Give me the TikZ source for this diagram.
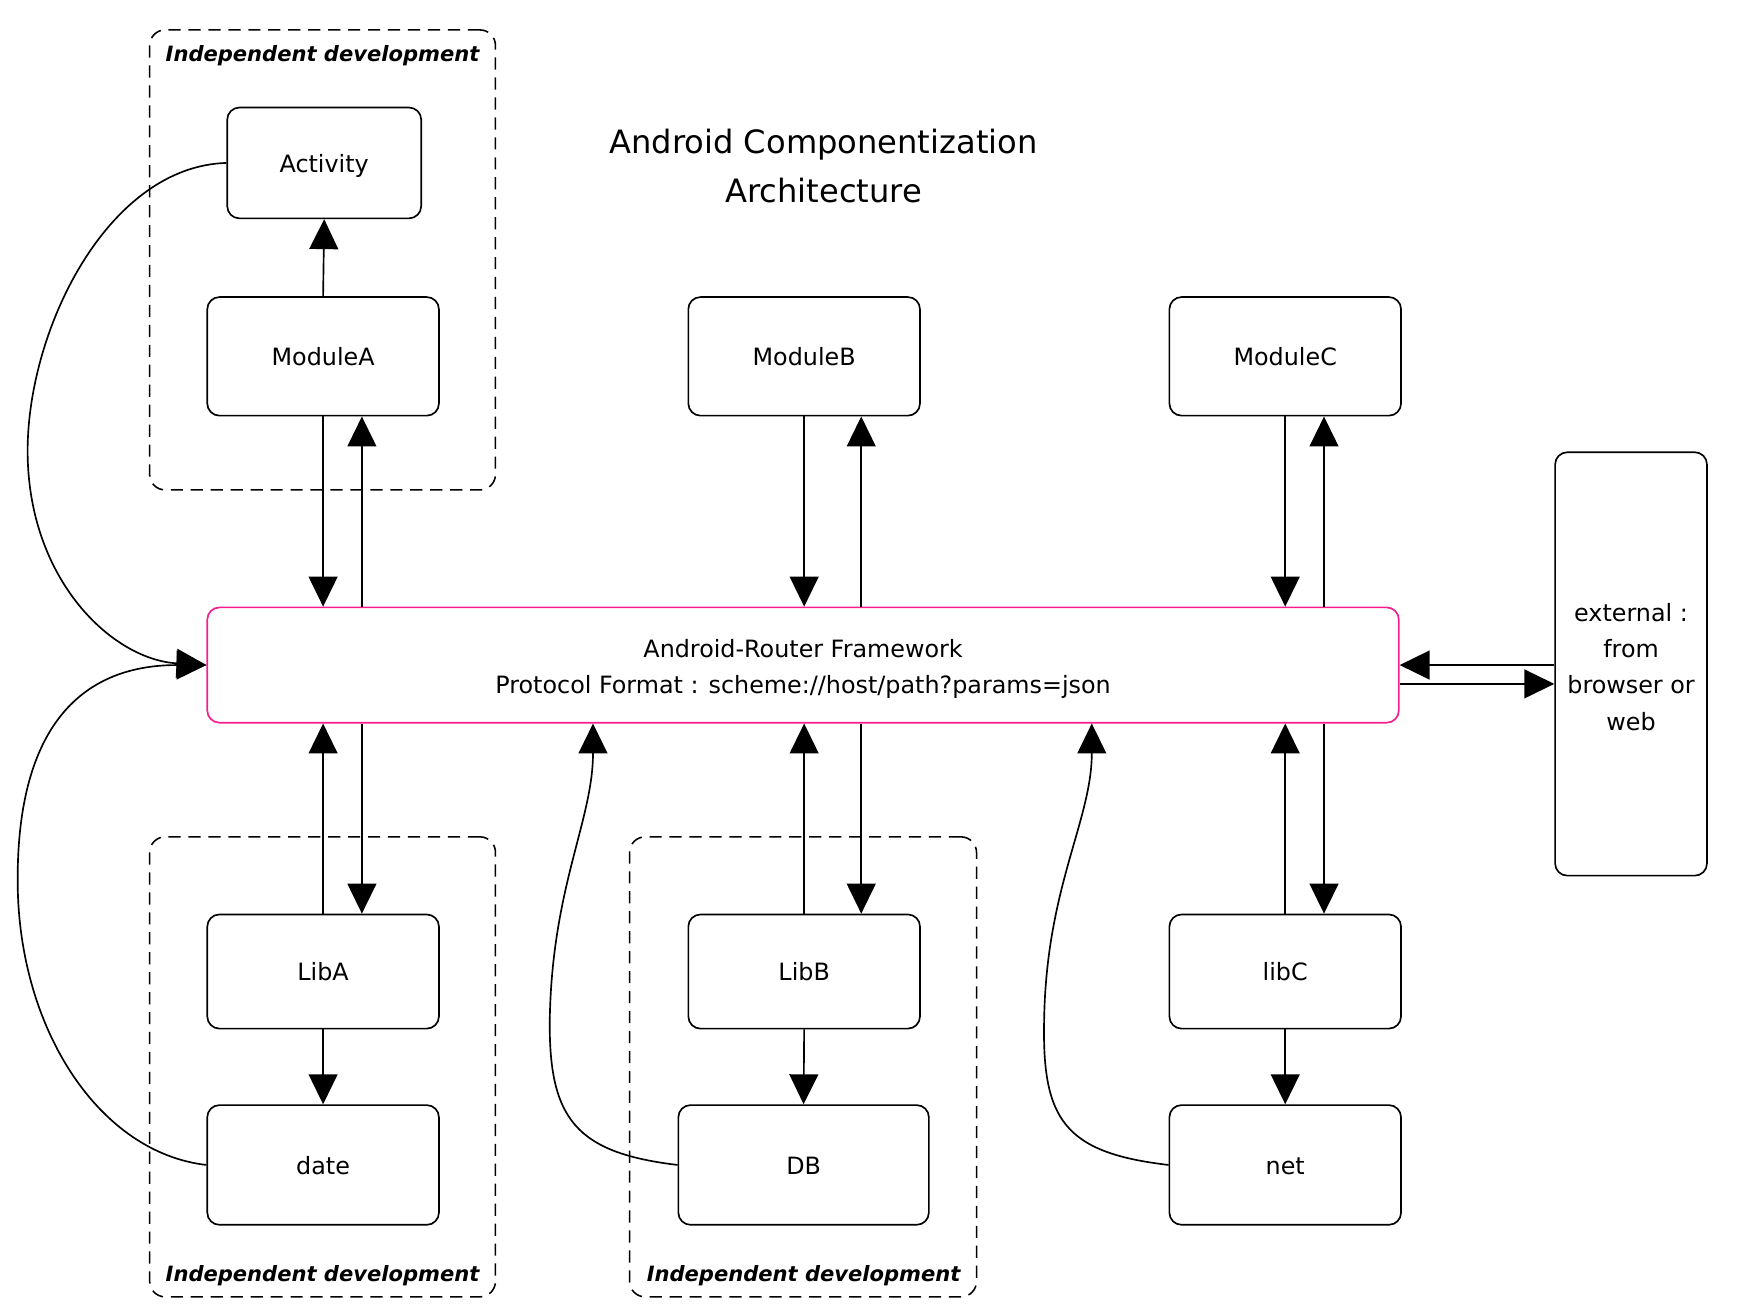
\documentclass[tikz,border=0pt]{standalone}
\usepackage{fontspec}
\setmainfont{DejaVu Sans}
\usetikzlibrary{arrows.meta}
\definecolor{routerpink}{RGB}{245,30,140}
\tikzset{
  box/.style={draw=black, line width=1.5pt, rounded corners=11pt, fill=white,
    minimum width=209pt, minimum height=105pt, align=center,
    font=\fontsize{21.5pt}{32.5pt}\selectfont, inner sep=0pt},
  onebox/.style={box, text height=17pt, text depth=0pt},
  group/.style={draw=black, line width=1.4pt, dash pattern=on 11pt off 7pt,
    rounded corners=14pt, inner sep=0pt},
  grouplabel/.style={font=\fontsize{19pt}{22pt}\selectfont\bfseries\itshape, inner sep=0pt},
  arr/.style={line width=1.5pt, -{Triangle[length=27pt,width=26pt]}},
}
\begin{document}
\begin{tikzpicture}[x=1pt, y=-1pt]
\useasboundingbox (0,0) rectangle (1568,1185);
% groups
\node[group, minimum width=312pt, minimum height=415pt] (g1) at (291,234.5) {};
\node[group, minimum width=312pt, minimum height=415pt] (g2) at (291,962.5) {};
\node[group, minimum width=313pt, minimum height=415pt] (g3) at (724.5,962.5) {};
\node[grouplabel] (g1l) at (291,50) {Independent development};
\node[grouplabel] (g2l) at (291,1151) {Independent development};
\node[grouplabel] (g3l) at (725,1151) {Independent development};
% title
\node[align=center, font=\fontsize{29pt}{44pt}\selectfont] (title) at (743,150)
  {Android Componentization\\Architecture};
% boxes
\node[onebox, minimum width=175pt, minimum height=100pt] (Activity) at (292.5,147) {Activity};
\node[onebox, minimum height=107pt] (ModuleA) at (291.5,321.5) {ModuleA};
\node[onebox, minimum height=107pt] (ModuleB) at (725.5,321.5) {ModuleB};
\node[onebox, minimum height=107pt] (ModuleC) at (1159.5,321.5) {ModuleC};
\node[box, draw=routerpink, minimum width=1075pt, minimum height=104pt] (Router) at (724.5,600)
  {\rule{0pt}{22.5pt}Android-Router Framework\\Protocol Format : scheme://host/path?params=json};
\node[box, minimum width=137pt, minimum height=382pt] (External) at (1471.5,599)
  {\rule{0pt}{22pt}external :\\from\\browser or\\web};
\node[onebox, minimum height=103pt] (LibA) at (291.5,876.5) {LibA};
\node[onebox, minimum height=103pt] (LibB) at (725.5,876.5) {LibB};
\node[onebox, minimum height=103pt] (libC) at (1159.5,876.5) {libC};
\node[onebox, minimum height=108pt] (date) at (291.5,1051) {date};
\node[onebox, minimum width=226pt, minimum height=108pt] (DB) at (725,1051) {DB};
\node[onebox, minimum height=108pt] (net) at (1159.5,1051) {net};
% module <-> router
\draw[arr] (ModuleA.north) -- (Activity.south);
\draw[arr] (ModuleA.south) -- (ModuleA.south |- Router.north);
\draw[arr] ([xshift=35pt]ModuleA.south |- Router.north) -- ([xshift=35pt]ModuleA.south);
\draw[arr] (ModuleB.south) -- (ModuleB.south |- Router.north);
\draw[arr] ([xshift=51.5pt]ModuleB.south |- Router.north) -- ([xshift=51.5pt]ModuleB.south);
\draw[arr] (ModuleC.south) -- (ModuleC.south |- Router.north);
\draw[arr] ([xshift=35pt]ModuleC.south |- Router.north) -- ([xshift=35pt]ModuleC.south);
% libs <-> router
\draw[arr] (LibA.north) -- (LibA.north |- Router.south);
\draw[arr] ([xshift=35pt]LibA.north |- Router.south) -- ([xshift=35pt]LibA.north);
\draw[arr] (LibB.north) -- (LibB.north |- Router.south);
\draw[arr] ([xshift=51.5pt]LibB.north |- Router.south) -- ([xshift=51.5pt]LibB.north);
\draw[arr] (libC.north) -- (libC.north |- Router.south);
\draw[arr] ([xshift=35pt]libC.north |- Router.south) -- ([xshift=35pt]libC.north);
% libs -> sub
\draw[arr] (LibA.south) -- (date.north);
\draw[arr] (LibB.south) -- (DB.north);
\draw[arr] (libC.south) -- (net.north);
% external
\draw[arr] (External.west |- Router.east) -- (Router.east);
\draw[arr] ([yshift=-17pt]Router.east) -- ([yshift=-17pt]Router.east -| External.west);
% curves
\draw[arr] (Activity.west) .. controls (100,150) and (28,290) .. (25,400)
  .. controls (22,520) and (100,595) .. (Router.west);
\draw[arr] (date.west) .. controls (90,1040) and (18,930) .. (16,800)
  .. controls (14,660) and (70,600) .. (Router.west);
\draw[arr] (DB.west) .. controls (520,1040) and (495,1010) .. (496,920)
  .. controls (498,800) and (535,740) .. ([xshift=-189.5pt]Router.south);
\draw[arr] (net.west) .. controls (960,1040) and (940,1010) .. (942,920)
  .. controls (944,800) and (985,740) .. ([xshift=260.5pt]Router.south);
\end{tikzpicture}
\end{document}
